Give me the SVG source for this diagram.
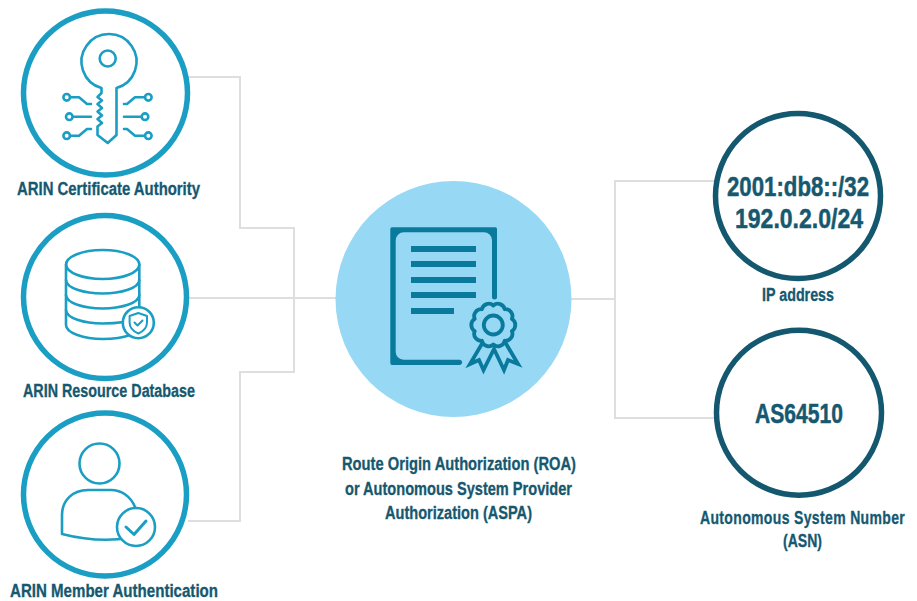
<svg xmlns="http://www.w3.org/2000/svg" width="917" height="601" viewBox="0 0 917 601">
<style>
text{font-family:"Liberation Sans",Arial,sans-serif;font-weight:700;fill:#15586f;stroke:#15586f;stroke-width:.3px;font-size:17.500px}
.big{font-size:28px;stroke-width:.5px}
.light{fill:#fff;stroke:#1b9ec4;stroke-width:5.500}
.dark{fill:#fff;stroke:#14586f;stroke-width:5.500}
.ic{fill:none;stroke:#1b9ec4;stroke-width:2.600;stroke-linecap:round;stroke-linejoin:round}
.icw{fill:#fff;stroke:#1b9ec4;stroke-width:2.600}
.doc{fill:#0a7a9c}
.rs{fill:none;stroke:#0a7a9c;stroke-width:3.800;stroke-linejoin:miter}
#connectors path{fill:none;stroke:#dedede;stroke-width:2}
</style>
<rect width="917" height="601" fill="#fff"/>
<g id="connectors">
<path d="M188,77H240V228H294V372H240V521H188"/>
<path d="M188,298H340"/>
<path d="M568,299H615"/>
<path d="M714,181H615V418H714"/>
</g>
<g id="node-ca">
<circle class="light" cx="105.500" cy="93" r="82"/>
<path class="ic" d="M101.500,88A27.500,27.500 0 1 1 116.500,88V135L107.700,143L97.500,135V126.500L102,123L97.500,119L102,115.500L97.500,111.500L102,108L97.500,104L102,100.500L97.500,97L101.500,93Z"/>
<circle class="ic" cx="107.700" cy="58.500" r="8"/>
<g class="ic">
<circle cx="66.700" cy="97.300" r="3.300"/><path d="M70,97.300H79L87,104H91"/>
<circle cx="69.300" cy="116.700" r="3.300"/><path d="M73,116.700H91"/>
<circle cx="66.700" cy="135.700" r="3.300"/><path d="M70,135.700H79L87,129H91"/>
<circle cx="148.300" cy="97.300" r="3.300"/><path d="M145,97.300H135L127,104H124"/>
<circle cx="145" cy="116.700" r="3.300"/><path d="M141.500,116.700H124"/>
<circle cx="148.300" cy="135.700" r="3.300"/><path d="M145,135.700H135L127,129H124"/>
</g>
<text x="17" y="195" textLength="183" lengthAdjust="spacingAndGlyphs">ARIN Certificate Authority</text>
</g>
<g id="node-db">
<circle class="light" cx="105" cy="297" r="81.500"/>
<g class="ic">
<ellipse cx="102.700" cy="264.500" rx="36.600" ry="14.500"/>
<path d="M66,264.500V325C66,333 84,339 102.700,339C114,339 122,338 130,335"/>
<path d="M139.300,264.500V310"/>
<path d="M66,280C66,288 84,293.500 102.700,293.500C121,293.500 139.300,288 139.300,280"/>
<path d="M66,295C66,303 84,308.500 102.700,308.500C121,308.500 139.300,303 139.300,295"/>
<path d="M66,310C66,318 84,323.500 102.700,323.500C110,323.500 117,323 124,322"/>
</g>
<circle class="icw" cx="138.300" cy="322.700" r="15.500"/>
<path class="ic" style="stroke-width:2" d="M138.300,313L147,316V322.500C147,327.500 143,331.500 138.300,333.500C133.600,331.500 129.600,327.500 129.600,322.500V316Z"/>
<path class="ic" style="stroke-width:2" d="M134.500,322.500L137.500,325.500L142.500,320.500"/>
<text x="23" y="397" textLength="172" lengthAdjust="spacingAndGlyphs">ARIN Resource Database</text>
</g>
<g id="node-auth">
<circle class="light" cx="105" cy="494.500" r="81.500"/>
<circle class="ic" cx="99.500" cy="463.500" r="20"/>
<path class="ic" d="M62,534V515C62,500 73,490 88,490H111C122,490 131,497 135,507L130,538C110,541 85,540 62,534Z"/>
<circle class="icw" cx="136" cy="527" r="19"/>
<path class="ic" style="stroke-width:3" d="M126,527L134,534.500L146,521"/>
<text x="10" y="597" textLength="208" lengthAdjust="spacingAndGlyphs">ARIN Member Authentication</text>
</g>
<g id="node-roa">
<circle cx="453.500" cy="299" r="118" fill="#97d9f5"/>
<path class="doc" d="M392,227.300H495.500Q497,227.300 497,229V297A2.500,2.500 0 0 1 492,297V240A8,8 0 0 0 484,232.300H404A8,8 0 0 0 395.700,240V351A8,8 0 0 0 404,359.700H460A2.700,2.700 0 0 1 460,365H392Q390.300,365 390.300,363V229Q390.300,227.300 392,227.300Z"/>
<rect class="doc" x="411" y="246" width="65" height="6"/>
<rect class="doc" x="411" y="261" width="65" height="6"/>
<rect class="doc" x="411" y="277" width="65" height="6"/>
<rect class="doc" x="411" y="292" width="65" height="6"/>
<rect class="doc" x="411" y="308" width="43" height="6"/>
<path class="rs" d="M483,342L470,364L479,360L483.500,370L494,349L504,370L508,360L518,364L505,342"/>
<path class="rs" style="fill:#97d9f5;stroke-linejoin:round" d="M493.300,305.500A7,7 0 0 1 504.760,309.220A7,7 0 0 1 511.850,318.970A7,7 0 0 1 511.850,331.030A7,7 0 0 1 504.760,340.780A7,7 0 0 1 493.300,344.500A7,7 0 0 1 481.840,340.780A7,7 0 0 1 474.750,331.030A7,7 0 0 1 474.750,318.970A7,7 0 0 1 481.840,309.220A7,7 0 0 1 493.300,305.500Z"/>
<circle class="rs" cx="493.300" cy="325" r="9.500"/>
<g>
<text x="342" y="470" textLength="234" lengthAdjust="spacingAndGlyphs">Route Origin Authorization (ROA)</text>
<text x="345" y="495" textLength="227" lengthAdjust="spacingAndGlyphs">or Autonomous System Provider</text>
<text x="385" y="519" textLength="147" lengthAdjust="spacingAndGlyphs">Authorization (ASPA)</text>
</g>
</g>
<g id="node-ip">
<circle class="dark" cx="798" cy="196" r="82.500"/>
<text class="big" x="727" y="196" textLength="142" lengthAdjust="spacingAndGlyphs">2001:db8::/32</text>
<text class="big" x="735" y="228" textLength="128" lengthAdjust="spacingAndGlyphs">192.0.2.0/24</text>
<text x="762" y="301" textLength="72" lengthAdjust="spacingAndGlyphs">IP address</text>
</g>
<g id="node-asn">
<circle class="dark" cx="799" cy="412.700" r="82.500"/>
<text class="big" x="755" y="423" textLength="88" lengthAdjust="spacingAndGlyphs">AS64510</text>
<text transform="translate(700 524) scale(.8 1)" x="0" y="0" textLength="256" lengthAdjust="spacing" style="letter-spacing:0">Autonomous System Number</text>
<text x="783" y="547" textLength="39" lengthAdjust="spacingAndGlyphs">(ASN)</text>
</g>
</svg>
